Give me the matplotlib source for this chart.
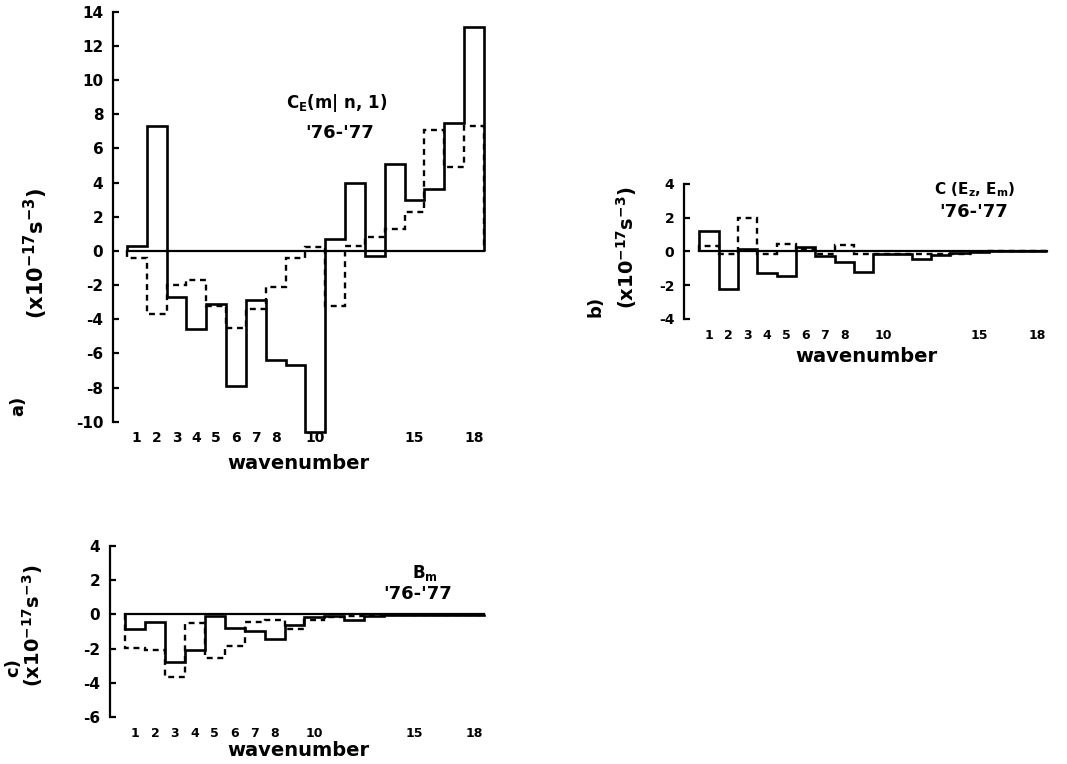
import numpy as np
import matplotlib
matplotlib.use("Agg")
import matplotlib.pyplot as plt

plt.rcParams['font.family'] = ['DejaVu Sans']
plt.rcParams['font.weight'] = 'bold'
plt.rcParams['mathtext.fontset'] = 'dejavusans'
plt.rcParams['mathtext.default'] = 'bf'
plt.rcParams['axes.unicode_minus'] = False

wavenumbers = np.arange(1, 19)
xtick_values = [1, 2, 3, 4, 5, 6, 7, 8, 10, 15, 18]
xtick_labels = ['1', '2', '3', '4', '5', '6', '7', '8', '10', '15', '18']

# Panel a: C_E(m|n,1)
ce_solid = [0.3, 7.3, -2.7, -4.6, -3.1, -7.9, -2.9, -6.4, -6.7, -10.6,
            0.7, 4.0, -0.3, 5.1, 3.0, 3.6, 7.5, 13.1]
ce_dashed = [-0.4, -3.7, -2.0, -1.7, -3.2, -4.5, -3.4, -2.1, -0.4, 0.2,
             -3.2, 0.3, 0.8, 1.3, 2.3, 7.1, 4.9, 7.3]

# Panel b: C(Ez, Em)
cz_solid = [1.2, -2.2, 0.15, -1.3, -1.45, 0.27, -0.25, -0.65, -1.24, -0.15,
            -0.15, -0.45, -0.2, -0.1, -0.05, 0.0, 0.0, 0.0]
cz_dashed = [0.33, -0.15, 2.0, -0.15, 0.43, 0.14, -0.12, 0.4, -0.15, -0.12,
             -0.15, -0.15, -0.15, -0.15, -0.05, 0.0, 0.0, 0.0]

# Panel c: B_m
bm_solid = [-0.86, -0.47, -2.8, -2.08, -0.08, -0.8, -1.0, -1.45, -0.6, -0.15,
            -0.08, -0.35, -0.1, -0.03, -0.03, -0.02, -0.02, -0.02]
bm_dashed = [-1.95, -2.1, -3.65, -0.5, -2.57, -1.84, -0.47, -0.35, -0.86, -0.35,
             -0.15, -0.1, -0.05, -0.03, -0.03, -0.02, -0.02, -0.02]

W, H = 1067, 764
fig = plt.figure(figsize=(W / 100, H / 100), dpi=100)


def px_axes(left, right, top, bottom):
    return fig.add_axes([left / W, 1 - bottom / H, (right - left) / W, (bottom - top) / H])


def ftext(x, y, s, **kw):
    fig.text(x / W, 1 - y / H, s, **kw)


def setup(ax, xlim, ylim, yticks, ysize, xsize):
    edges = np.arange(0.5, 19.5, 1.0)
    ax.set_xlim(*xlim)
    ax.set_ylim(*ylim)
    for s in ['top', 'right', 'bottom']:
        ax.spines[s].set_visible(False)
    ax.spines['left'].set_linewidth(1.6)
    ax.set_yticks(yticks)
    ax.set_yticklabels([str(v) for v in yticks], fontsize=ysize, fontweight='bold')
    ax.tick_params(axis='y', direction='in', length=4, width=1.6, pad=7)
    ax.set_xticks(xtick_values)
    ax.set_xticklabels(xtick_labels, fontsize=xsize, fontweight='bold')
    ax.tick_params(axis='x', length=0, pad=7)
    ax.plot([edges[0], edges[-1]], [0, 0], color='black', lw=1.6, clip_on=False)
    return edges


def draw(ax, edges, solid, dashed):
    ax.stairs(dashed, edges, baseline=0, fill=False, color='black', lw=1.7,
              linestyle=(0, (2.5, 2)), clip_on=False)
    ax.stairs(solid, edges, baseline=0, fill=False, color='black', lw=1.9,
              clip_on=False)


# Panel a
axa = px_axes(113, 484, 11.7, 421.7)
ea = setup(axa, (-0.2, 18.5), (-10, 14), list(range(-10, 15, 2)), 11, 10)
draw(axa, ea, ce_solid, ce_dashed)
ftext(337, 103, r'C$_\mathrm{E}$(m| n, 1)', fontsize=12, ha='center', va='center')
ftext(340, 133, "'76-'77", fontsize=13, ha='center', va='center')
ftext(298, 463, 'wavenumber', fontsize=14, ha='center', va='center')
ftext(36, 254, r'(x10$^{-17}$s$^{-3}$)', fontsize=15, rotation=90, ha='center', va='center')
ftext(18, 406, 'a)', fontsize=13, rotation=90, ha='center', va='center')

# Panel b
axb = px_axes(684, 1047, 184, 319)
eb = setup(axb, (-0.3, 18.5), (-4, 4), [-4, -2, 0, 2, 4], 10, 9)
draw(axb, eb, cz_solid, cz_dashed)
ftext(975, 190, r'C (E$_\mathrm{z}$, E$_\mathrm{m}$)', fontsize=11, ha='center', va='center')
ftext(974, 212, "'76-'77", fontsize=13, ha='center', va='center')
ftext(866, 357, 'wavenumber', fontsize=14, ha='center', va='center')
ftext(627, 248, r'(x10$^{-17}$s$^{-3}$)', fontsize=14, rotation=90, ha='center', va='center')
ftext(596, 306, 'b)', fontsize=13, rotation=90, ha='center', va='center')

# Panel c
axc = px_axes(110, 483, 545.8, 717)
ec = setup(axc, (-0.25, 18.45), (-6, 4), [-6, -4, -2, 0, 2, 4], 11, 9)
draw(axc, ec, bm_solid, bm_dashed)
ftext(425, 573, r'B$_\mathrm{m}$', fontsize=12, ha='center', va='center')
ftext(418, 594, "'76-'77", fontsize=13, ha='center', va='center')
ftext(298, 751, 'wavenumber', fontsize=14, ha='center', va='center')
ftext(33, 626, r'(x10$^{-17}$s$^{-3}$)', fontsize=14, rotation=90, ha='center', va='center')
ftext(13, 668, 'c)', fontsize=13, rotation=90, ha='center', va='center')

fig.savefig('out.png', dpi=100)
